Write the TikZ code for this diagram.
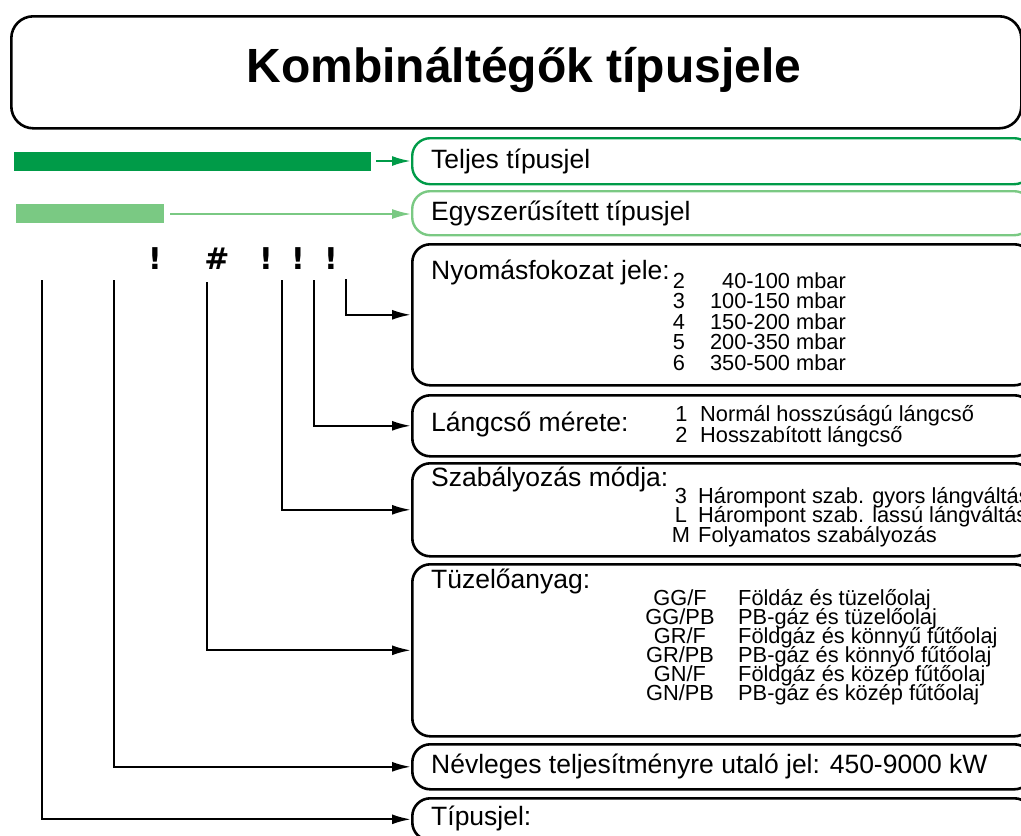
\documentclass[tikz,border=0pt]{standalone}
\usepackage{fontspec}
\setmainfont{Liberation Sans}
\newfontfamily\symfont{DejaVu Sans}
\usetikzlibrary{arrows.meta}
\definecolor{dgreen}{RGB}{0,155,72}
\definecolor{lgreen}{RGB}{122,201,131}
\tikzset{
  box/.style={draw, line width=2.6pt, rounded corners=18pt, anchor=north west, inner sep=0pt},
  gbox/.style={box, line width=2.4pt},
  conn/.style={line width=2.2pt, -{Latex[length=19pt,width=10pt]}},
  lab/.style={anchor=west, inner sep=0pt, font=\fontsize{26.5}{30}\selectfont},
  num/.style={anchor=base, inner sep=0pt, font=\fontsize{21.8}{24}\selectfont},
  txtl/.style={anchor=base west, inner sep=0pt, font=\fontsize{21.8}{24}\selectfont},
  txtr/.style={anchor=base east, inner sep=0pt, font=\fontsize{21.8}{24}\selectfont},
  sym/.style={inner sep=0pt, font=\fontsize{30}{32}\selectfont\symfont\bfseries},
}
\begin{document}
\begin{tikzpicture}[x=1pt,y=-1pt]
\useasboundingbox (0,0) rectangle (1021,836);
\clip (0,0) rectangle (1021,836);
% title
\node[box, line width=2.6pt, rounded corners=22pt, minimum width=1010pt, minimum height=112pt] (tbox) at (10,15) {};
\node[inner sep=0pt, font=\fontsize{48}{52}\selectfont\bfseries] (title) at (524,70) {Kombináltégők típusjele};
% bars
\node[fill=dgreen, inner sep=0pt, minimum width=357pt, minimum height=19pt, anchor=north west] (bar1) at (14,152) {};
\node[fill=lgreen, inner sep=0pt, minimum width=148pt, minimum height=19pt, anchor=north west] (bar2) at (16,204) {};
% boxes
\node[gbox, draw=dgreen, minimum width=620pt, minimum height=46pt] (g1) at (411,137) {};
\node[gbox, draw=lgreen, minimum width=620pt, minimum height=44pt] (g2) at (411,190) {};
\node[box, minimum width=620pt, minimum height=141pt] (b1) at (411,243) {};
\node[box, minimum width=620pt, minimum height=61pt] (b2) at (411,394) {};
\node[box, minimum width=620pt, minimum height=93pt] (b3) at (411,462) {};
\node[box, minimum width=620pt, minimum height=172pt] (b4) at (411,563) {};
\node[box, minimum width=620pt, minimum height=45pt] (b5) at (411,743) {};
\node[box, minimum width=620pt, minimum height=42pt] (b6) at (411,797) {};
% green arrows
\coordinate (ga1) at (376,161);
\coordinate (ga2) at (170,214);
\draw[conn, draw=dgreen, fill=dgreen] (ga1) -- (ga1 -| g1.west);
\draw[conn, draw=lgreen, fill=lgreen, line width=1.8pt] (ga2) -- (ga2 -| g2.west);
% symbols
\node[sym] (s1) at (155,259) {!};
\node[sym] (s2) at (217,259) {\#};
\node[sym] (s3) at (266,259) {!};
\node[sym] (s4) at (298,259) {!};
\node[sym] (s5) at (331,259) {!};
% connector starts
\coordinate (c6) at (42,280);
\coordinate (c5) at (114,280);
\coordinate (c4) at (207,282);
\coordinate (c3) at (282,280);
\coordinate (c2) at (314,280);
\coordinate (c1) at (346,279);
\draw[conn] (c1) |- (b1.west);
\draw[conn] (c2) |- (b2.west);
\draw[conn] (c3) |- (b3.west);
\draw[conn] (c4) |- (b4.west);
\draw[conn] (c5) |- (b5.west);
\draw[conn] (c6) |- (b6.west);
% labels
\node[lab] (l1) at (431,161) {Teljes típusjel};
\node[lab] (l2) at (431,213) {Egyszerűsített típusjel};
\node[lab] (l3) at (431,272) {Nyomásfokozat jele:};
\node[lab] (l4) at (431,424) {Lángcső mérete:};
\node[lab] (l5) at (431,479) {Szabályozás módja:};
\node[lab] (l6) at (431,581) {Tüzelőanyag:};
\node[lab] (l7) at (431,766) {Névleges teljesítményre utaló jel: 450-9000 kW};
\node[lab] (l8) at (431,818) {Típusjel:};
% pressure list
\foreach \n/\t [count=\i] in {2/40-100 mbar,3/100-150 mbar,4/150-200 mbar,5/200-350 mbar,6/350-500 mbar}{
  \node[num] (pn\i) at (679,{288+20.5*(\i-1)}) {\n};
  \node[txtr] (pt\i) at (846,{288+20.5*(\i-1)}) {\t};
}
% flame tube list
\foreach \n/\t [count=\i] in {1/Normál hosszúságú lángcső,2/Hosszabított lángcső}{
  \node[num] (ln\i) at (681.5,{421+21.5*(\i-1)}) {\n};
  \node[txtl] (lt\i) at (700,{421+21.5*(\i-1)}) {\t};
}
% control list
\foreach \n/\t [count=\i] in {3/Hárompont szab. gyors lángváltás,L/Hárompont szab. lassú lángváltás,M/Folyamatos szabályozás}{
  \node[num] (sn\i) at (681,{503+19.5*(\i-1)}) {\n};
  \node[txtl] (st\i) at (698,{503+19.5*(\i-1)}) {\t};
}
% fuel list
\foreach \n/\t [count=\i] in {{GG/F}/Földáz és tüzelőolaj,{GG/PB}/PB-gáz és tüzelőolaj,{GR/F}/Földgáz és könnyű fűtőolaj,{GR/PB}/PB-gáz és könnyő fűtőolaj,{GN/F}/Földgáz és közép fűtőolaj,{GN/PB}/PB-gáz és közép fűtőolaj}{
  \node[num] (fn\i) at (680,{605+19*(\i-1)}) {\n};
  \node[txtl] (ft\i) at (738,{605+19*(\i-1)}) {\t};
}
\end{tikzpicture}
\end{document}
